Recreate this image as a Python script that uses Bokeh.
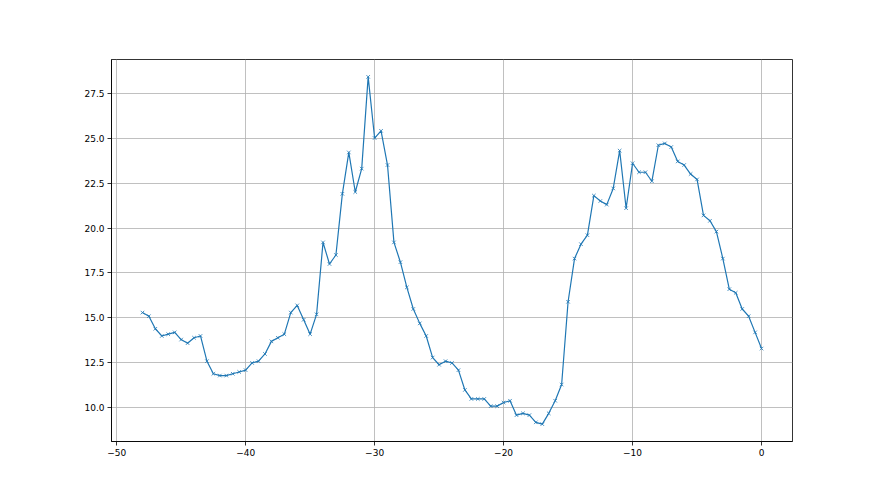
from bokeh.plotting import figure
from bokeh.models import Range1d, FixedTicker
from bokeh.embed import file_html
from bokeh.resources import INLINE

x_vals = [-48.0, -47.5, -47.0, -46.5, -46.0, -45.5, -45.0, -44.5, -44.0, -43.5,
          -43.0, -42.5, -42.0, -41.5, -41.0, -40.5, -40.0, -39.5, -39.0, -38.5,
          -38.0, -37.5, -37.0, -36.5, -36.0, -35.5, -35.0, -34.5, -34.0, -33.5,
          -33.0, -32.5, -32.0, -31.5, -31.0, -30.5, -30.0, -29.5, -29.0, -28.5,
          -28.0, -27.5, -27.0, -26.5, -26.0, -25.5, -25.0, -24.5, -24.0, -23.5,
          -23.0, -22.5, -22.0, -21.5, -21.0, -20.5, -20.0, -19.5, -19.0, -18.5,
          -18.0, -17.5, -17.0, -16.5, -16.0, -15.5, -15.0, -14.5, -14.0, -13.5,
          -13.0, -12.5, -12.0, -11.5, -11.0, -10.5, -10.0, -9.5, -9.0, -8.5,
          -8.0, -7.5, -7.0, -6.5, -6.0, -5.5, -5.0, -4.5, -4.0, -3.5,
          -3.0, -2.5, -2.0, -1.5, -1.0, -0.5, 0.0]

y_vals = [15.3, 15.1, 14.4, 14.0, 14.1, 14.2, 13.8, 13.6, 13.9, 14.0,
          12.6, 11.9, 11.8, 11.8, 11.9, 12.0, 12.1, 12.5, 12.6, 13.0,
          13.7, 13.9, 14.1, 15.3, 15.7, 14.9, 14.1, 15.2, 19.2, 18.0,
          18.5, 21.9, 24.2, 22.0, 23.3, 28.4, 25.0, 25.4, 23.5, 19.2,
          18.1, 16.7, 15.5, 14.7, 14.0, 12.8, 12.4, 12.6, 12.5, 12.1,
          11.0, 10.5, 10.5, 10.5, 10.1, 10.1, 10.3, 10.4, 9.6, 9.7,
          9.6, 9.2, 9.1, 9.7, 10.4, 11.3, 15.9, 18.3, 19.1, 19.6,
          21.8, 21.5, 21.3, 22.2, 24.3, 21.1, 23.6, 23.1, 23.1, 22.6,
          24.6, 24.7, 24.5, 23.7, 23.5, 23.0, 22.7, 20.7, 20.4, 19.8,
          18.3, 16.6, 16.4, 15.5, 15.1, 14.2, 13.3]

x_ticks = [-50, -40, -30, -20, -10, 0]
x_tick_labels = ["\u221250", "\u221240", "\u221230", "\u221220", "\u221210", "0"]
y_ticks = [10.0, 12.5, 15.0, 17.5, 20.0, 22.5, 25.0, 27.5]
y_tick_labels = ["10.0", "12.5", "15.0", "17.5", "20.0", "22.5", "25.0", "27.5"]

xspan = max(x_vals) - min(x_vals)
yspan = max(y_vals) - min(y_vals)

p = figure(width=864, height=479, output_backend="svg", toolbar_location=None,
           x_range=Range1d(min(x_vals) - 0.05 * xspan, max(x_vals) + 0.05 * xspan),
           y_range=Range1d(min(y_vals) - 0.05 * yspan, max(y_vals) + 0.05 * yspan),
           min_border_left=111, min_border_right=72, min_border_top=59, min_border_bottom=38)

p.outline_line_color = "black"
p.outline_line_width = 0.8
p.background_fill_color = "white"
p.border_fill_color = "white"

p.xaxis.ticker = FixedTicker(ticks=x_ticks)
p.yaxis.ticker = FixedTicker(ticks=y_ticks)
p.xaxis.major_label_overrides = dict(zip(x_ticks, x_tick_labels))
p.yaxis.major_label_overrides = dict(zip(y_ticks, y_tick_labels))

for ax in (p.xaxis, p.yaxis):
    ax.axis_line_color = "black"
    ax.axis_line_width = 0.8
    ax.major_tick_line_color = "black"
    ax.major_tick_line_width = 0.8
    ax.major_tick_out = 4
    ax.major_tick_in = 0
    ax.minor_tick_line_color = None
    ax.major_label_text_font = "DejaVu Sans"
    ax.major_label_text_font_size = "9px"
    ax.major_label_text_color = "black"
    ax.major_label_standoff = 3

p.xgrid.grid_line_color = "#b0b0b0"
p.ygrid.grid_line_color = "#b0b0b0"
p.xgrid.grid_line_width = 0.8
p.ygrid.grid_line_width = 0.8

p.line(x_vals, y_vals, line_color="#1f77b4", line_width=1.2)
p.scatter(x_vals, y_vals, marker="x", size=5, line_color="#1f77b4", line_width=0.8)

open("out.html", "w").write(file_html(p, INLINE))
